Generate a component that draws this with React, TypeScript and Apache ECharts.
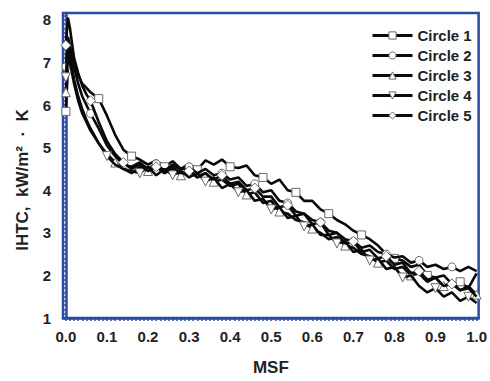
import React, { useEffect, useRef } from "react";
import * as echarts from "echarts";

const msf = [
  0, 0.005, 0.01, 0.02, 0.03, 0.04, 0.05, 0.06, 0.08, 0.1, 0.12, 0.14, 0.16, 0.18,
  0.2, 0.22, 0.24, 0.26, 0.28, 0.3, 0.32, 0.34, 0.36, 0.38, 0.4, 0.42, 0.44, 0.46,
  0.48, 0.5, 0.52, 0.54, 0.56, 0.58, 0.6, 0.62, 0.64, 0.66, 0.68, 0.7, 0.72, 0.74,
  0.76, 0.78, 0.8, 0.82, 0.84, 0.86, 0.88, 0.9, 0.92, 0.94, 0.96, 0.98, 1.0,
];

const circle1 = [
  5.85, 6.9, 7.3, 7.0, 6.7, 6.5, 6.4, 6.3, 6.15, 5.75, 5.3, 4.95, 4.8, 4.72,
  4.6, 4.7, 4.55, 4.68, 4.5, 4.62, 4.48, 4.7, 4.6, 4.72, 4.55, 4.52, 4.58, 4.35,
  4.3, 4.15, 4.25, 4.0, 3.95, 3.75, 3.75, 3.55, 3.45, 3.3, 3.2, 3.05, 2.95, 2.85,
  2.7, 2.5, 2.4, 2.35, 2.2, 2.25, 2.0, 1.95, 2.0, 1.8, 1.85, 1.7, 2.05,
];
const circle2 = [
  6.9, 7.6, 7.4, 6.9, 6.5, 6.2, 6.0, 5.8, 5.45, 5.05, 4.8, 4.6, 4.55, 4.65,
  4.5, 4.62, 4.45, 4.6, 4.48, 4.55, 4.4, 4.5, 4.35, 4.4, 4.25, 4.3, 4.1, 4.15,
  3.95, 4.0, 3.75, 3.7, 3.5, 3.45, 3.3, 3.25, 3.05, 3.0, 2.85, 2.8, 2.65, 2.7,
  2.55, 2.5, 2.42, 2.45, 2.3, 2.35, 2.2, 2.25, 2.15, 2.2, 2.1, 2.2, 2.1,
];
const circle3 = [
  6.3, 7.1, 7.0, 6.5, 6.1, 5.8, 5.6, 5.4, 5.1, 4.85, 4.65, 4.5, 4.4, 4.55,
  4.45, 4.6, 4.4, 4.5, 4.35, 4.5, 4.3, 4.4, 4.2, 4.25, 4.1, 4.15, 3.9, 3.95,
  3.7, 3.75, 3.5, 3.45, 3.3, 3.25, 3.1, 3.0, 2.85, 2.9, 2.7, 2.65, 2.5, 2.45,
  2.3, 2.35, 2.15, 2.2, 2.0, 2.05, 1.85, 1.95, 1.75, 1.85, 1.65, 1.75, 1.55,
];
const circle4 = [
  6.65, 7.5, 7.2, 6.6, 6.2, 5.9, 5.65, 5.45, 5.1, 4.8, 4.6, 4.5, 4.45, 4.4,
  4.55, 4.35, 4.5, 4.35, 4.45, 4.3, 4.4, 4.2, 4.3, 4.05, 4.15, 3.95, 4.0, 3.75,
  3.8, 3.55, 3.6, 3.35, 3.4, 3.15, 3.2, 2.95, 2.95, 2.75, 2.8, 2.55, 2.6, 2.35,
  2.4, 2.15, 2.2, 1.95, 2.0, 1.75, 1.6, 1.7, 1.5, 1.6, 1.4, 1.5, 1.35,
];
const circle5 = [
  7.4, 8.05, 7.8, 7.1, 6.75, 6.45, 6.25, 6.1, 5.6, 5.15, 4.85, 4.65, 4.5, 4.6,
  4.45, 4.55, 4.4, 4.55, 4.4, 4.45, 4.3, 4.4, 4.25, 4.35, 4.15, 4.2, 4.0, 4.05,
  3.85, 3.85, 3.6, 3.65, 3.4, 3.45, 3.2, 3.25, 2.95, 3.0, 2.75, 2.8, 2.55, 2.6,
  2.4, 2.45, 2.25, 2.3, 2.05, 2.1, 1.9, 1.95, 1.75, 1.8, 1.65, 1.7, 1.5,
];

const seriesNames = ["Circle 1", "Circle 2", "Circle 3", "Circle 4", "Circle 5"];
const seriesValues = [circle1, circle2, circle3, circle4, circle5];

const xTickLabels = [0, 0.1, 0.2, 0.3, 0.4, 0.5, 0.6, 0.7, 0.8, 0.9, 1.0];
const yTickLabels = [1, 2, 3, 4, 5, 6, 7, 8];

const yAxisTitle = "IHTC,  kW/m²  ·  K";
const xAxisTitle = "MSF";

const BLUE = "#2b4ba3";
const FONT = "Liberation Sans, Arial, sans-serif";

const symbols = ["rect", "circle", "triangle", "triangle", "diamond"];
const symbolRotates = [0, 0, 0, 180, 0];
const symbolSizes = [8, 8, 9, 9, 10];
const markerOffsets = [0, 1, 2, 3, 1];

export default function App() {
  const ref = useRef<HTMLDivElement>(null);

  useEffect(() => {
    if (!ref.current) return;
    const chart = echarts.init(ref.current, null, { renderer: "svg" });

    const xMinorTicks: number[] = [];
    for (let i = 0; i <= 100; i++) xMinorTicks.push(i / 100);
    const yMinorTicks: number[] = [];
    for (let i = 10; i <= 81; i++) yMinorTicks.push(i / 10);

    const series = seriesNames.map((name, s) => ({
      name,
      type: "line",
      symbol: symbols[s],
      symbolRotate: symbolRotates[s],
      symbolSize: symbolSizes[s],
      showAllSymbol: true,
      lineStyle: { color: "#0a0a0a", width: 2.6 },
      itemStyle: { color: "#ffffff", borderColor: "#6a6a6a", borderWidth: 1 },
      emphasis: { disabled: true },
      z: 2 + s,
      data: msf.map((x, i) => {
        const isMarker = i === 0 || (i >= 7 && (i + markerOffsets[s]) % 4 === 0);
        return isMarker
          ? { value: [x, seriesValues[s][i]] }
          : { value: [x, seriesValues[s][i]], symbol: "none" };
      }),
    }));

    chart.setOption({
      animation: false,
      backgroundColor: "#ffffff",
      grid: {
        left: 63,
        right: 8,
        top: 13,
        bottom: 58,
        show: true,
        borderColor: BLUE,
        borderWidth: 2.5,
        backgroundColor: "transparent",
      },
      legend: {
        orient: "vertical",
        left: 366,
        top: 23,
        itemWidth: 40,
        itemHeight: 9,
        itemGap: 5,
        data: seriesNames,
        itemStyle: { color: "#ffffff", borderColor: "#6a6a6a", borderWidth: 1 },
        lineStyle: { color: "#0a0a0a", width: 3 },
        textStyle: {
          fontFamily: FONT,
          fontWeight: "bold",
          fontSize: 15,
          color: "#222",
        },
      },
      xAxis: {
        type: "value",
        min: -0.007,
        max: 1.005,
        name: xAxisTitle,
        nameLocation: "middle",
        nameGap: 41,
        nameTextStyle: {
          fontFamily: FONT,
          fontWeight: "bold",
          fontSize: 17,
          color: "#222",
          verticalAlign: "top",
        },
        axisLine: { show: true, lineStyle: { color: BLUE, width: 2.5 } },
        axisTick: {
          show: true,
          inside: false,
          length: 3,
          customValues: xMinorTicks,
          lineStyle: { color: BLUE, width: 1.5 },
        },
        axisLabel: {
          customValues: xTickLabels,
          formatter: (v: number) => v.toFixed(1),
          margin: 11,
          fontFamily: FONT,
          fontWeight: "bold",
          fontSize: 15,
          color: "#222",
        },
        splitLine: { show: false },
      },
      yAxis: {
        type: "value",
        min: 1,
        max: 8.16,
        axisLine: { show: true, lineStyle: { color: BLUE, width: 2.5 } },
        axisTick: {
          show: true,
          inside: false,
          length: 3,
          customValues: yMinorTicks,
          lineStyle: { color: BLUE, width: 1.5 },
        },
        axisLabel: {
          customValues: yTickLabels,
          formatter: (v: number) => String(Math.round(v)),
          margin: 12,
          fontFamily: FONT,
          fontWeight: "bold",
          fontSize: 15,
          color: "#222",
        },
        splitLine: { show: false },
      },
      graphic: [
        {
          type: "text",
          x: 22,
          y: 180,
          rotation: Math.PI / 2,
          style: {
            text: yAxisTitle,
            fontFamily: FONT,
            fontWeight: "bold",
            fontSize: 17,
            fill: "#222",
            textAlign: "center",
            textVerticalAlign: "middle",
          },
        },
      ],
      series,
    });

    return () => chart.dispose();
  }, []);

  return <div ref={ref} style={{ width: 490, height: 381, position: "absolute", left: 0, top: 0 }} />;
}
